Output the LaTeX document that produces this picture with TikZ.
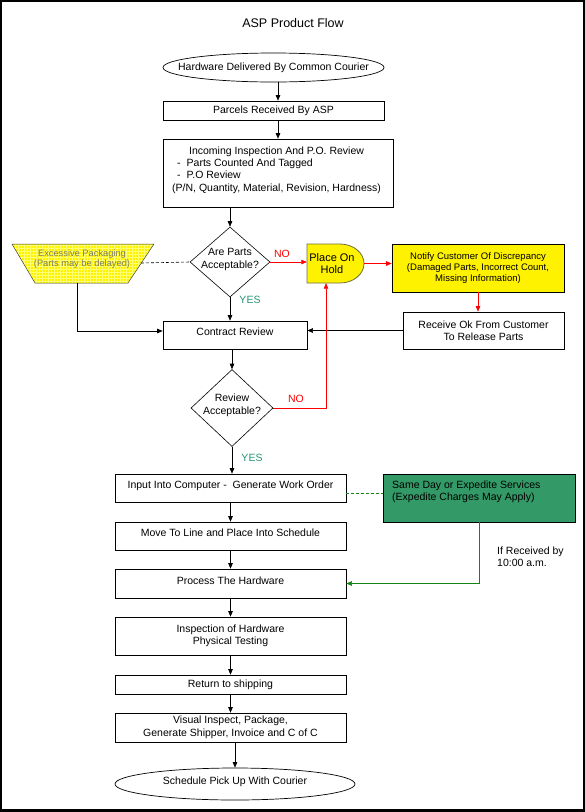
\documentclass[tikz,border=0pt]{standalone}
\usepackage{fontspec}
\setmainfont{Liberation Sans}
\usetikzlibrary{arrows.meta,shapes.geometric,patterns}
\definecolor{lred}{RGB}{255,0,0}
\definecolor{yesgreen}{RGB}{40,150,120}
\definecolor{boxgreen}{RGB}{51,153,102}
\definecolor{linegreen}{RGB}{20,130,20}
\definecolor{packtext}{RGB}{125,125,100}
\definecolor{holdline}{RGB}{110,110,60}
\newcommand\zstack[1]{\makebox[0pt]{\smash{\begin{tabular}{@{}c@{}}#1\end{tabular}}}}
\begin{document}
\begin{tikzpicture}[x=1pt,y=-1pt,
  font=\fontsize{10.5}{12.5}\selectfont,
  box/.style={draw=black, line width=0.7pt, inner sep=0pt, align=center},
  arr/.style={line width=0.6pt, -{Triangle[length=5.5pt,width=4.5pt]}},
  lbl/.style={inner sep=0pt},
  raisetext/.style={text depth=6.5pt},
  dec/.style={draw=black, line width=0.6pt, diamond, inner sep=0pt}]

\useasboundingbox (0,0) rectangle (585,812);
\fill[black] (0,0) rectangle (585,812);
\fill[white] (2,2) rectangle (583,809);

\node[lbl, font=\fontsize{12.5}{15}\selectfont] (title) at (293,23) {ASP Product Flow};

% top chain
\node[box, ellipse, minimum width=221pt, minimum height=29pt] (e1) at (273.5,67.5) {\makebox[0pt]{Hardware Delivered By Common Courier}};
\node[box, minimum width=221pt, minimum height=19pt] (parcels) at (273.5,110.5) {Parcels Received By ASP};
\node[box, minimum width=230pt, minimum height=68pt] (inc) at (278,173) {};
\node[lbl, anchor=north west, font=\fontsize{10.5}{12.3}\selectfont] (inctxt) at (172,145.4) {\begin{tabular}{@{}l@{}}\multicolumn{1}{@{}c@{}}{Incoming Inspection And P.O. Review}\\\hspace*{5pt}-\hspace{6pt}Parts Counted And Tagged\\\hspace*{5pt}-\hspace{6pt}P.O Review\\(P/N, Quantity, Material, Revision, Hardness)\end{tabular}};

% decision 1
\node[dec, minimum width=80pt, minimum height=70pt] (d1) at (230,262) {\zstack{Are Parts\\Acceptable?}};

% excessive packaging trapezoid
\coordinate (tNW) at (12,244);
\coordinate (tNE) at (154,244);
\coordinate (tSE) at (128,283);
\coordinate (tSW) at (35,283);
\coordinate (tR) at (141,263);
\coordinate (tB) at (77,283);
\fill[yellow] (tNW) -- (tNE) -- (tSE) -- (tSW) -- cycle;
\fill[pattern=grid, pattern color=yellow!55!white] (tNW) -- (tNE) -- (tSE) -- (tSW) -- cycle;
\draw[line width=0.5pt, black!75] (tNW) -- (tNE) -- (tSE) -- (tSW) -- cycle;
\node[lbl, text=packtext, align=center, font=\fontsize{9.3}{10.5}\selectfont] (trap) at (82,259) {Excessive Packaging\\(Parts may be delayed)};

% place on hold
\filldraw[fill=yellow, draw=holdline, line width=0.8pt] (307,244) -- (340,244) arc[start angle=90, end angle=-90, x radius=24pt, y radius=19.5pt] -- (307,283) -- cycle;
\node[lbl, align=center, minimum width=57pt, minimum height=39pt, font=\fontsize{11}{12.5}\selectfont] (hold) at (335.5,263.5) {Place On\hspace*{7pt}\\Hold\hspace*{7pt}};

% notify / receive
\node[box, fill=yellow, minimum width=172pt, minimum height=48pt, font=\fontsize{9.5}{11}\selectfont] (notify) at (478,268) {Notify Customer Of Discrepancy\\(Damaged Parts, Incorrect Count,\\Missing Information)};
\node[box, minimum width=161pt, minimum height=37pt, font=\fontsize{10.5}{12}\selectfont] (receive) at (483.5,330.5) {Receive Ok From Customer\\To Release Parts};

% contract review and decision 2
\node[box, raisetext, minimum width=144pt, minimum height=28pt] (contract) at (235,335) {Contract Review};
\node[dec, minimum width=82pt, minimum height=77pt] (d2) at (232,408) {\zstack{Review\\Acceptable?}};

\node[lbl, text=lred] (no1) at (282,254) {NO};
\node[lbl, text=lred] (no2) at (296,399) {NO};
\node[lbl, text=yesgreen] (yes1) at (250,300) {YES};
\node[lbl, text=yesgreen] (yes2) at (252,458) {YES};

% lower chain
\node[box, raisetext, minimum width=231pt, minimum height=28pt] (input) at (230.5,488) {Input Into Computer -\ \ Generate Work Order};
\node[box, fill=boxgreen, minimum width=192pt, minimum height=48pt] (green) at (479,498) {};
\node[lbl, anchor=north west, align=left, font=\fontsize{10.5}{12}\selectfont] (greentxt) at (392,481) {Same Day or Expedite Services\\(Expedite Charges May Apply)};
\node[lbl, anchor=west, align=left, font=\fontsize{10.5}{12}\selectfont] (iftxt) at (497,557) {If Received by\\10:00 a.m.};
\node[box, raisetext, minimum width=231pt, minimum height=28pt] (move) at (230.5,536) {Move To Line and Place Into Schedule};
\node[box, raisetext, minimum width=231pt, minimum height=29pt] (process) at (230.5,583.5) {Process The Hardware};
\node[box, minimum width=231pt, minimum height=38pt, font=\fontsize{10.5}{12}\selectfont] (inspection) at (230.5,636) {Inspection of Hardware\\Physical Testing};
\node[box, minimum width=231pt, minimum height=19pt] (return) at (230.5,684.5) {Return to shipping};
\node[box, minimum width=231pt, minimum height=29pt, font=\fontsize{10.5}{13}\selectfont] (visual) at (230.5,727.5) {Visual Inspect, Package,\\Generate Shipper, Invoice and C of C};
\node[box, ellipse, raisetext, minimum width=240pt, minimum height=32pt] (e2) at (235,784) {\makebox[0pt]{Schedule Pick Up With Courier}};

% connectors
\draw[arr] ([xshift=4.5pt]e1.south) -- ([xshift=4.5pt]parcels.north);
\draw[arr] ([xshift=4.5pt]parcels.south) -- (inc.north);
\draw[arr] (d1.north |- inc.south) -- (d1.north);
\draw[line width=0.6pt, dash pattern=on 3pt off 2pt] (tR) -- (d1.west);
\draw[arr] (tB) |- ([yshift=4pt]contract.west);
\draw[arr, lred] (d1.east) -- (d1.east -| hold.west);
\draw[arr, lred] (hold.east) -- (hold.east -| notify.west);
\draw[arr, lred] (notify.south) -- (notify.south |- receive.north);
\draw[arr] (receive.west) -- (receive.west -| contract.east);
\draw[arr] (d1.south) -- (d1.south |- contract.north);
\draw[arr] (d2.north |- contract.south) -- (d2.north);
\draw[arr, lred] (d2.east) -| ([xshift=-9.5pt]hold.south);
\draw[arr] (d2.south) -- (d2.south |- input.north);
\draw[line width=0.6pt, linegreen, dash pattern=on 3pt off 2pt] ([yshift=-5pt]input.east) -- ([yshift=-5pt]input.east -| green.west);
\draw[arr, linegreen] (green.south) |- (process.east);
\draw[arr] (input.south) -- (move.north);
\draw[arr] (move.south) -- (process.north);
\draw[arr] (process.south) -- (inspection.north);
\draw[arr] (inspection.south) -- (return.north);
\draw[arr] (return.south) -- (visual.north);
\draw[arr] (e2.north |- visual.south) -- (e2.north);
\end{tikzpicture}
\end{document}
